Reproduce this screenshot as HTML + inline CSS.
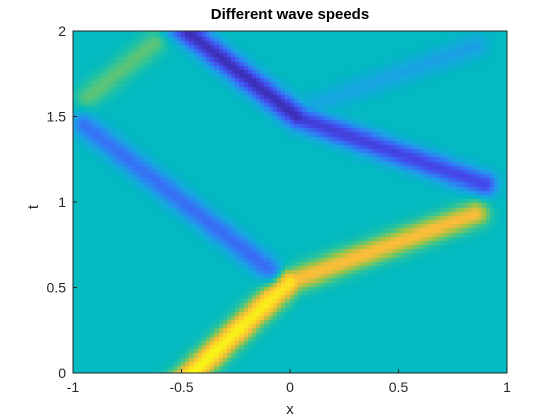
<!DOCTYPE html>
<html><head><meta charset="utf-8"><style>
body{margin:0;background:#fff;width:560px;height:420px;overflow:hidden;font-family:"Liberation Sans",sans-serif;}
#wrap{position:relative;width:560px;height:420px;}
canvas{position:absolute;left:73px;top:31px;}
svg{position:absolute;left:0;top:0;}
text{font-family:"Liberation Sans",sans-serif;fill:#262626;}
</style></head><body><div id="wrap">
<canvas id="c" width="434" height="342"></canvas>
<svg id="s" width="560" height="420"></svg>
</div>
<script>
// wave segments: start (x,t), end (x,t), amplitude at start/end
const segX0=[-0.52, 0.00,-0.08, 0.90, 0.04, 0.10,-0.93];
const segT0=[-0.08, 0.54, 0.60, 1.11, 1.50, 1.57, 1.62];
const segX1=[ 0.00, 0.86,-0.95, 0.04,-0.55, 0.86,-0.62];
const segT1=[ 0.54, 0.94, 1.46, 1.50, 2.08, 1.92, 1.94];
const ampA=[ 1.00, 0.60,-0.38,-0.52,-0.66,-0.13, 0.22];
const ampB=[ 0.88, 0.58,-0.34,-0.58,-0.66,-0.17, 0.22];
const xTicks=[-1,-0.5,0,0.5,1];
const xTickLabels=["-1","-0.5","0","0.5","1"];
const tTicks=[0,0.5,1,1.5,2];
const tTickLabels=["0","0.5","1","1.5","2"];

const L=73,R=507,T=31,B=373;
const sx=x=>L+(x+1)/2*(R-L);
const st=t=>B-t/2*(B-T);
const stops=[[0,58,36,160],[0.125,68,74,236],[0.25,48,128,246],[0.35,20,170,222],[0.42,2,186,192],[0.5,50,196,150],[0.625,160,196,70],[0.75,250,188,58],[0.875,250,218,36],[1,249,251,21]];
function parula(v){v=Math.max(0,Math.min(1,v));for(let i=1;i<stops.length;i++){if(v<=stops[i][0]){const a=stops[i-1],b=stops[i],f=(v-a[0])/(b[0]-a[0]);return [0,1,2].map(k=>Math.round(a[k+1]+(b[k+1]-a[k+1])*f));}}return [249,251,21];}
const cv=document.getElementById('c'),ctx=cv.getContext('2d');
const NX=104,NT=82,cw=(R-L)/NX,ch=(B-T)/NT,sig=8.5;
for(let i=0;i<NX;i++)for(let j=0;j<NT;j++){
 const px=L+(i+0.5)*cw,py=B-(j+0.5)*ch;let up=0,un=0;
 for(let k=0;k<segX0.length;k++){
  const ax=sx(segX0[k]),ay=st(segT0[k]),bx=sx(segX1[k]),by=st(segT1[k]);
  const dx=bx-ax,dy=by-ay,len2=dx*dx+dy*dy;
  const f=((px-ax)*dx+(py-ay)*dy)/len2;const fc=Math.max(0,Math.min(1,f));
  const qx=ax+fc*dx-px,qy=ay+fc*dy-py,d2=qx*qx+qy*qy;
  const v=(ampA[k]+(ampB[k]-ampA[k])*fc)*Math.exp(-d2/(2*sig*sig));
  if(v>up)up=v;if(v<un)un=v;
 }
 const c=parula(0.42+0.58*(up+un));
 ctx.fillStyle=`rgb(${c[0]},${c[1]},${c[2]})`;
 ctx.fillRect(Math.floor(i*cw),Math.floor((NT-1-j)*ch),Math.ceil(cw)+1,Math.ceil(ch)+1);
}
const svg=document.getElementById('s'),NS='http://www.w3.org/2000/svg';
function mk(tag,attrs,txt){const e=document.createElementNS(NS,tag);for(const a in attrs)e.setAttribute(a,attrs[a]);if(txt!==undefined)e.textContent=txt;svg.appendChild(e);return e;}
let e=mk('rect',{x:L,y:T,width:R-L,height:B-T,fill:'none',stroke:'#262626','stroke-width':1});


xTicks.forEach((v,i)=>{
 let l=mk('line',{x1:sx(v),x2:sx(v),y1:B,y2:B-4,stroke:'#262626'});
 
 
 let t=mk('text',{x:sx(v),y:B+19,'text-anchor':'middle','font-size':14},xTickLabels[i]);
 
 
});
tTicks.forEach((v,i)=>{
 let l=mk('line',{x1:L,x2:L+4,y1:st(v),y2:st(v),stroke:'#262626'});
 
 
 let t=mk('text',{x:L-7,y:st(v)+5,'text-anchor':'end','font-size':14},tTickLabels[i]);
 
 
});
e=mk('text',{x:290,y:414,'text-anchor':'middle','font-size':15},'x');


e=mk('text',{x:38,y:207,'text-anchor':'middle','font-size':15,transform:'rotate(-90 38 207)'},'t');


e=mk('text',{x:290,y:19,'text-anchor':'middle','font-size':15,'font-weight':'bold',style:'fill:#000'},'Different wave speeds');


</script></body></html>
